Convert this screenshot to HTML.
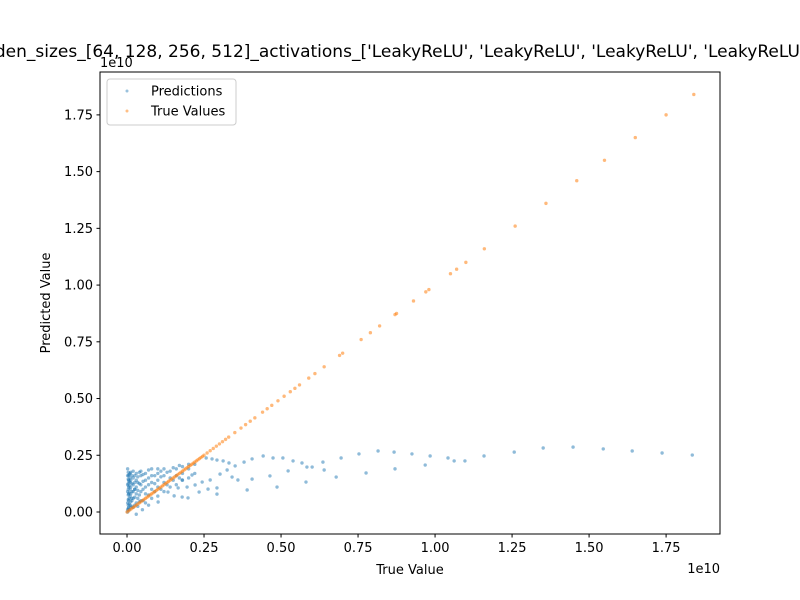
<!DOCTYPE html>
<html><head><meta charset="utf-8"><style>
body{margin:0;background:#fff}
svg{display:block;font-family:"DejaVu Sans","Liberation Sans",sans-serif}
</style></head><body>
<svg id="chart" width="800" height="600" xmlns="http://www.w3.org/2000/svg"></svg>
<script>
const xTicks=[0,0.25,0.5,0.75,1.0,1.25,1.5,1.75];
const xTickLabels=["0.00","0.25","0.50","0.75","1.00","1.25","1.50","1.75"];
const yTicks=[0,0.25,0.5,0.75,1.0,1.25,1.5,1.75];
const yTickLabels=["0.00","0.25","0.50","0.75","1.00","1.25","1.50","1.75"];
const predX=[0.002,0.002,0.002,0.002,0.002,0.002,0.002,0.005,0.005,0.005,0.005,0.005,0.005,0.01,0.01,0.01,0.01,0.01,0.01,0.02,0.02,0.02,0.02,0.02,0.02,0.03,0.03,0.03,0.03,0.03,0.045,0.045,0.045,0.045,0.045,0.06,0.06,0.06,0.06,0.06,0.08,0.08,0.08,0.08,0.08,0.10,0.10,0.10,0.10,0.10,0.12,0.12,0.12,0.12,0.14,0.14,0.14,0.16,0.16,0.16,0.18,0.18,0.18,0.20,0.20,0.20,0.22,0.22,0.05,0.03,0.07,0.015,0.025,0.035,
0.004,0.004,0.004,0.004,0.004,0.004,0.004,0.004,0.007,0.007,0.007,0.007,0.007,0.007,0.007,0.012,0.012,0.012,0.012,0.012,0.012,0.016,0.016,0.016,0.016,0.016,0.025,0.025,0.025,0.025,0.025,0.035,0.035,0.035,0.035,0.04,0.04,0.04,0.04,0.052,0.052,0.052,0.052,0.07,0.07,0.07,0.07,0.09,0.09,0.09,0.11,0.11,0.11,0.13,0.13,0.15,0.15,0.17,0.17,
0.257,0.276,0.292,0.312,0.331,0.351,0.380,0.406,0.442,0.474,0.506,0.539,0.568,0.601,0.636,0.695,0.753,0.815,0.867,0.925,
0.153,0.179,0.198,0.234,0.263,0.292,0.292,0.341,0.360,0.390,0.406,0.464,0.487,0.523,0.581,0.584,0.640,0.679,0.776,0.870,0.221,0.195,0.166,0.133,0.101,0.179,0.211,0.244,0.270,0.302,0.325,
0.968,0.984,1.042,1.062,1.097,1.159,1.257,1.351,1.448,1.546,1.640,1.737,1.835];
const predY=[0.0,0.01,0.04,0.09,0.12,0.16,0.19,0.02,0.05,0.08,0.11,0.14,0.16,0.03,0.07,0.10,0.13,0.15,0.17,0.02,0.06,0.09,0.12,0.15,0.18,0.04,0.08,0.11,0.14,0.17,0.05,0.09,0.12,0.16,0.18,0.04,0.08,0.11,0.14,0.17,0.06,0.10,0.13,0.16,0.19,0.07,0.11,0.14,0.17,0.19,0.09,0.13,0.16,0.19,0.11,0.15,0.18,0.12,0.16,0.19,0.14,0.17,0.20,0.15,0.19,0.21,0.17,0.21,0.01,-0.01,0.03,0.06,0.10,0.13,
0.015,0.03,0.055,0.075,0.10,0.125,0.145,0.175,0.01,0.035,0.06,0.085,0.115,0.135,0.165,0.02,0.045,0.08,0.11,0.14,0.175,0.025,0.05,0.09,0.125,0.16,0.03,0.065,0.10,0.13,0.16,0.025,0.06,0.095,0.155,0.045,0.075,0.125,0.175,0.05,0.10,0.135,0.165,0.075,0.12,0.15,0.185,0.09,0.125,0.16,0.10,0.155,0.18,0.12,0.175,0.14,0.195,0.15,0.205,
0.238,0.234,0.229,0.225,0.216,0.203,0.220,0.234,0.247,0.238,0.238,0.225,0.216,0.198,0.220,0.238,0.256,0.269,0.264,0.256,
0.071,0.066,0.062,0.088,0.101,0.106,0.079,0.154,0.141,0.097,0.145,0.159,0.110,0.181,0.132,0.198,0.185,0.154,0.172,0.190,0.119,0.110,0.106,0.088,0.044,0.141,0.163,0.132,0.141,0.167,0.185,
0.207,0.247,0.238,0.225,0.225,0.247,0.264,0.282,0.286,0.278,0.269,0.260,0.251];
const trueX=[0,0.005,0.01,0.015,0.02,0.025,0.03,0.035,0.04,0.045,0.05,0.055,0.06,0.065,0.07,0.075,0.08,0.085,0.09,0.095,0.10,0.105,0.11,0.115,0.12,0.125,0.13,0.135,0.14,0.145,0.15,0.155,0.16,0.165,0.17,0.175,0.18,0.185,0.19,0.195,0.20,0.205,0.21,0.215,0.22,0.225,0.23,0.235,0.24,0.245,0.25,0.26,0.27,0.28,0.29,0.30,0.31,0.32,0.33,
0.35,0.37,0.385,0.40,0.415,0.44,0.455,0.47,0.49,0.51,0.53,0.545,0.56,0.59,0.61,0.64,0.69,0.70,0.76,0.79,0.82,0.87,0.875,0.93,0.97,0.98,1.05,1.07,1.10,1.16,1.26,1.36,1.46,1.55,1.65,1.75,1.84];
const trueY=trueX.slice();

const NS="http://www.w3.org/2000/svg";
const svg=document.getElementById('chart');
const L=100,R=720,T=72,B=534;
const xMin=-0.0877,xMax=1.925,yMin=-0.097,yMax=1.939;
function sx(v){return L+(v-xMin)/(xMax-xMin)*(R-L);}
function sy(v){return B-(v-yMin)/(yMax-yMin)*(B-T);}
function mk(tag,attrs,parent){const e=document.createElementNS(NS,tag);for(const k in attrs)e.setAttribute(k,attrs[k]);(parent||svg).appendChild(e);return e;}

const title=mk('text',{x:400,y:57,'text-anchor':'middle','font-size':'17'});
title.textContent="hidden_sizes_[64, 128, 256, 512]_activations_['LeakyReLU', 'LeakyReLU', 'LeakyReLU', 'LeakyReLU']_lr";



const pg=mk('g',{});


for(let i=0;i<predX.length;i++){
  const c=mk('circle',{cx:sx(predX[i]),cy:sy(predY[i]),r:1.7,fill:'#1f77b4','fill-opacity':0.5},pg);
  
  
}
const tg=mk('g',{});


for(let i=0;i<trueX.length;i++){
  const c=mk('circle',{cx:sx(trueX[i]),cy:sy(trueY[i]),r:1.7,fill:'#ff7f0e','fill-opacity':0.55},tg);
  
  
}
const frame=mk('rect',{x:L,y:T,width:R-L,height:B-T,fill:'none',stroke:'#000','stroke-width':1});



xTicks.forEach((v,i)=>{
  const x=sx(v);
  mk('line',{x1:x,x2:x,y1:B,y2:B+3.5,stroke:'#000'});
  const t=mk('text',{x:x,y:B+18,'text-anchor':'middle','font-size':'13'});
  t.textContent=xTickLabels[i];
  
  
});
yTicks.forEach((v,i)=>{
  const y=sy(v);
  mk('line',{x1:L-3.5,x2:L,y1:y,y2:y,stroke:'#000'});
  const t=mk('text',{x:L-7,y:y+4.5,'text-anchor':'end','font-size':'13'});
  t.textContent=yTickLabels[i];
  
  
});
const xo=mk('text',{x:720,y:573,'text-anchor':'end','font-size':'13'});xo.textContent='1e10';


const yo=mk('text',{x:100,y:67,'font-size':'13'});yo.textContent='1e10';


const xl=mk('text',{x:410,y:574,'text-anchor':'middle','font-size':'13'});xl.textContent='True Value';


const yl=mk('text',{x:50,y:303,'text-anchor':'middle','font-size':'13',transform:'rotate(-90 50 303)'});yl.textContent='Predicted Value';



const lg=mk('g',{});


mk('rect',{x:107,y:79,width:129,height:46,rx:3,fill:'#fff','fill-opacity':0.8,stroke:'#ccc'},lg);
const e1=mk('g',{},lg);


mk('circle',{cx:127,cy:91,r:1.5,fill:'#1f77b4','fill-opacity':0.45},e1);
const t1=mk('text',{x:151,y:95.5,'font-size':'13'},e1);t1.textContent='Predictions';
const e2=mk('g',{},lg);


mk('circle',{cx:127,cy:111,r:1.5,fill:'#ff7f0e','fill-opacity':0.5},e2);
const t2=mk('text',{x:151,y:115.5,'font-size':'13'},e2);t2.textContent='True Values';
</script>
</body></html>
